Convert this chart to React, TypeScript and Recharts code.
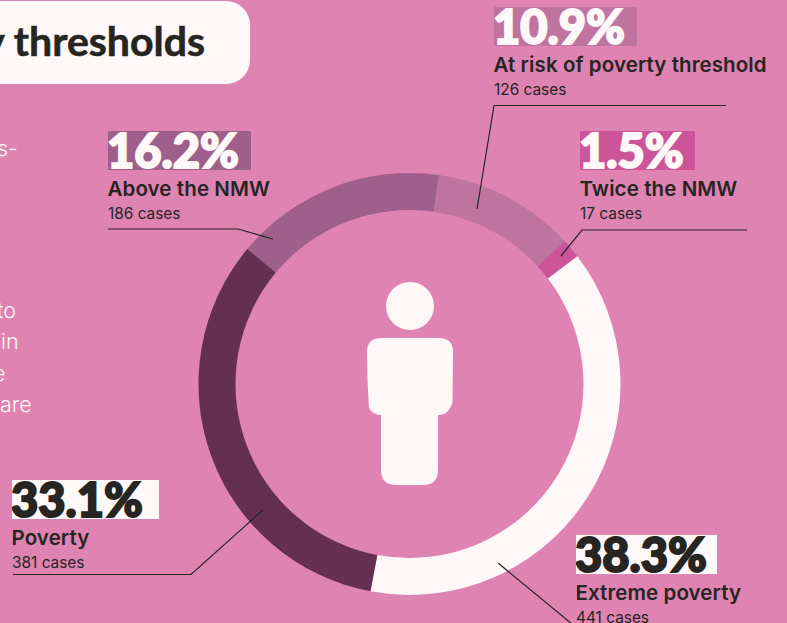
import {PieChart, Pie, Cell} from "recharts";

// order follows the ring, clockwise from the top
const categories = ["At risk of poverty threshold", "Twice the NMW", "Extreme poverty", "Poverty", "Above the NMW"];
const cases = [126, 17, 441, 381, 186];
const shares = ["10.9%", "1.5%", "38.3%", "33.1%", "16.2%"];

const colors = ["#BF74A0", "#CC5599", "#FFF8F8", "#642F50", "#9E5F8A"];
const boxColors = ["#BF74A0", "#CC5599", "#FFF8F8", "#FFF8F8", "#9E5F8A"];
const shareColors = ["#FFF8F8", "#FFF8F8", "#262522", "#262522", "#FFF8F8"];
const DARK = "#262522";
const PAGE = "#DF83B3";
const WHITE = "#FFF8F8";

const chartData = categories.map((name, i) => ({name, value: cases[i]}));

// where each text block sits on the page
const blocks = [
  {x: 494, y: 7, w: 143},
  {x: 580, y: 131, w: 115},
  {x: 576, y: 535, w: 141},
  {x: 12, y: 480, w: 147},
  {x: 108, y: 131, w: 143},
];

const leaders = [
  "726,105.5 494,105.5 477,209",
  "747,230 582,230 561,256",
  "498,563 572,624",
  "13,574.5 191,574.5 263,510",
  "108,229 238,229 273,239",
];

const sideText = [
  {t: "s-", y: 131, x: -3},
  {t: "to", y: 293, x: -3},
  {t: "in", y: 324, x: 1},
  {t: "e", y: 356, x: -7},
  {t: "are", y: 387, x: 0},
];

const App = () => {
  return (
    <div style={{position: "absolute", left: 0, top: 0, width: 787, height: 623, overflow: "hidden", background: PAGE}}>
      <div style={{position: "absolute", left: -40, top: 1, width: 290, height: 83, background: WHITE, borderRadius: 24}} />
      <div style={{position: "absolute", right: 582, top: 15, whiteSpace: "nowrap", fontFamily: "Lato", fontWeight: 700, fontSize: 41, lineHeight: "52px", color: DARK, WebkitTextStroke: `0.6px ${DARK}`}}>
        Poverty thresholds
      </div>

      {sideText.map((s) => (
        <div key={s.t} style={{position: "absolute", left: s.x, top: s.y, fontFamily: "Inter", fontWeight: 300, fontSize: 21.5, lineHeight: "34px", color: WHITE}}>
          {s.t}
        </div>
      ))}

      <div style={{position: "absolute", left: 0, top: 0}}>
        <PieChart width={787} height={623} margin={{top: 0, right: 0, bottom: 0, left: 0}}>
          <Pie
            data={chartData}
            dataKey="value"
            cx={409.5}
            cy={384}
            innerRadius={174}
            outerRadius={211}
            startAngle={82}
            endAngle={-278}
            stroke="none"
            isAnimationActive={false}
          >
            {chartData.map((d, i) => (
              <Cell key={d.name} fill={colors[i]} />
            ))}
          </Pie>
        </PieChart>
      </div>

      <svg width={787} height={623} style={{position: "absolute", left: 0, top: 0}}>
        {leaders.map((p) => (
          <polyline key={p} points={p} fill="none" stroke={DARK} strokeWidth={1.2} />
        ))}
        {/* person icon */}
        <circle cx={410} cy={306} r={24} fill={WHITE} />
        <path
          d="M381 338 H439 Q453 338 453 352 L452.5 402 Q449 415 438 415 V470 Q438 485 423 485 H396 Q381 485 381 470 V415 Q373 415 369 408 Q367 380 367 352 Q367 338 381 338 Z"
          fill={WHITE}
        />
      </svg>

      {blocks.map((b, i) => (
        <div key={categories[i]} style={{position: "absolute", left: b.x, top: b.y, whiteSpace: "nowrap"}}>
          <div style={{width: b.w, height: 39, background: boxColors[i], color: shareColors[i], fontFamily: "Lato", fontWeight: 900, fontSize: 47, letterSpacing: 0, lineHeight: "39px", textIndent: -1, boxSizing: "border-box", overflow: "hidden", WebkitTextStroke: `2px ${shareColors[i]}`}}>
            {shares[i]}
          </div>
          <div style={{marginTop: 6, marginLeft: -0.5, fontFamily: "Inter", fontWeight: 600, fontSize: 20.5, letterSpacing: 0.1, lineHeight: "26px", color: DARK}}>
            {categories[i]}
          </div>
          <div style={{marginTop: 2, fontFamily: "Inter", fontWeight: 400, fontSize: 15.4, lineHeight: "20px", color: DARK}}>
            {cases[i]} cases
          </div>
        </div>
      ))}
    </div>
  );
};

export default App;
